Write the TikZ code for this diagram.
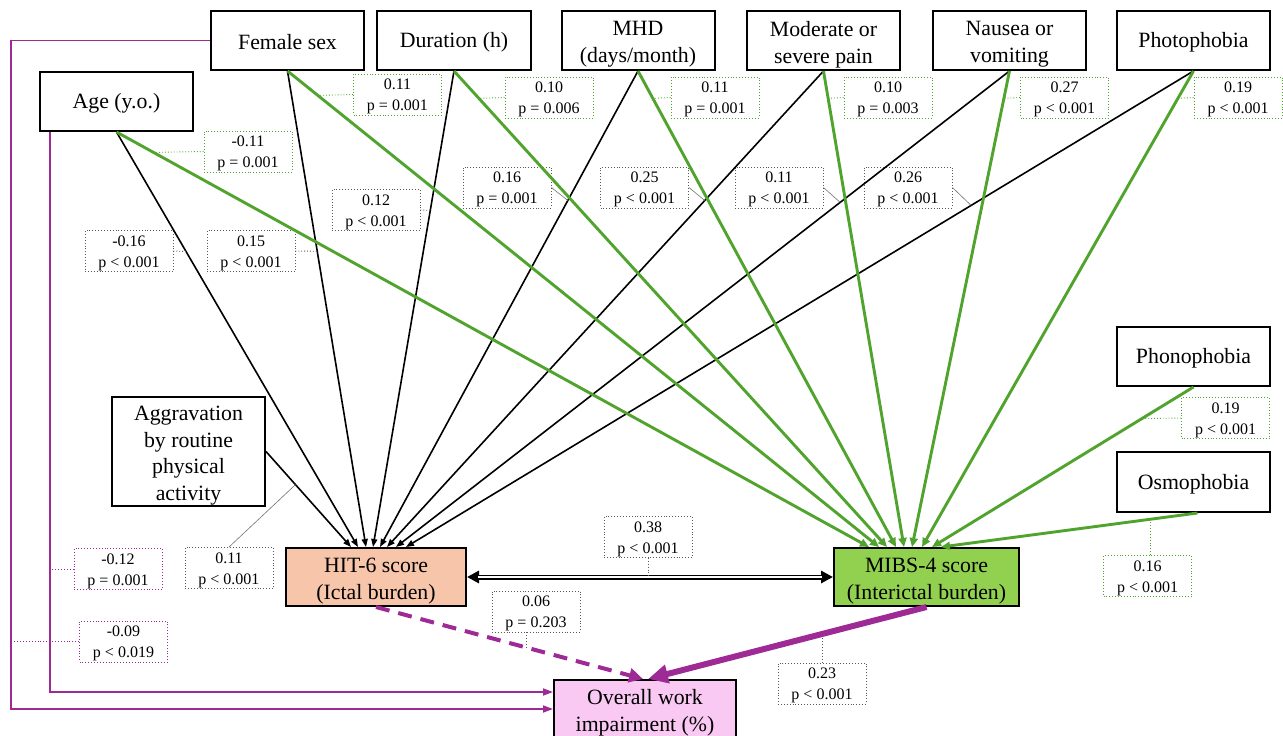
\documentclass[tikz,border=0pt]{standalone}
\usepackage{fontspec}
\setmainfont{Liberation Serif}
\usetikzlibrary{arrows.meta,calc}
\definecolor{grn}{RGB}{80,164,45}
\definecolor{pur}{RGB}{158,42,150}
\definecolor{hitc}{RGB}{246,197,170}
\definecolor{mibc}{RGB}{146,208,80}
\definecolor{owic}{RGB}{249,201,243}
\begin{document}
\begin{tikzpicture}[x=1pt,y=-1pt,
  box/.style={draw, line width=2pt, minimum width=153pt, minimum height=59pt, inner sep=0pt, fill=white},
  boxtxt/.style={align=center, inner sep=0pt, font=\fontsize{21.8}{26.7}\selectfont, yshift=-4pt},
  onetxt/.style={align=center, inner sep=0pt, font=\fontsize{21.8}{26.7}\selectfont, yshift=-2pt},
  lab/.style={draw=#1, dotted, line width=0.9pt, fill=white, minimum width=88pt, minimum height=41pt, inner sep=0pt},
  lab/.default=black!65,
  labtxt/.style={align=center, inner sep=0pt, font=\fontsize{16}{21}\selectfont, yshift=-2pt},
  lead/.style={draw=#1, dotted, line width=0.9pt},
  lead/.default=black!65,
  diag/.style={draw=black!55, line width=0.6pt},
  blk/.style={line width=1.6pt, -{Triangle[length=8pt,width=6pt]}},
  grnar/.style={grn, line width=2.9pt, -{Triangle[length=9pt,width=8pt]}},
  purc/.style={pur, line width=1.8pt, -{Triangle[length=10pt,width=7pt]}}
]
\useasboundingbox (0,0) rectangle (1283,736);

% main boxes
\node[box, label={[onetxt]center:Female sex}] (fem) at (287.5,40.5) {};
\node[box, minimum width=154pt, label={[onetxt]center:Duration (h)}] (dur) at (454,40.5) {};
\node[box, label={[boxtxt]center:{MHD\\(days/month)}}] (mhd) at (638,40.5) {};
\node[box, label={[boxtxt]center:{Moderate or\\severe pain}}] (mod) at (823.5,40.5) {};
\node[box, label={[boxtxt]center:{Nausea or\\vomiting}}] (nau) at (1009.5,40.5) {};
\node[box, label={[onetxt]center:Photophobia}] (pho) at (1193.5,40.5) {};
\node[box, label={[onetxt]center:Age (y.o.)}] (age) at (116.5,101.5) {};
\node[box, label={[onetxt]center:Phonophobia}] (phn) at (1193.5,356.5) {};
\node[box, minimum height=60pt, label={[onetxt]center:Osmophobia}] (osm) at (1193.5,482) {};
\node[box, minimum height=109pt, label={[boxtxt]center:{Aggravation\\by routine\\physical\\activity}}] (agg) at (188.5,451.5) {};
\node[box, fill=hitc, minimum width=180pt, minimum height=58pt, label={[boxtxt]center:{HIT-6 score\\(Ictal burden)}}] (hit) at (376,577) {};
\node[box, fill=mibc, minimum width=185pt, minimum height=58pt, label={[boxtxt]center:{MIBS-4 score\\(Interictal burden)}}] (mibs) at (926.5,577) {};
\node[box, fill=owic, minimum width=182pt, minimum height=58pt, label={[boxtxt]center:{Overall work\\impairment (\%)}}] (owi) at (645,709) {};

% label boxes
\node[lab=grn, label={[labtxt]center:{0.11\\p = 0.001}}] (L1) at (397.5,94.5) {};
\node[lab=grn, label={[labtxt]center:{-0.11\\p = 0.001}}] (L2) at (248,151.5) {};
\node[lab, label={[labtxt]center:{0.12\\p < 0.001}}] (L3) at (376,210) {};
\node[lab, label={[labtxt]center:{-0.16\\p < 0.001}}] (L4) at (129,251) {};
\node[lab, label={[labtxt]center:{0.15\\p < 0.001}}] (L5) at (251,251) {};
\node[lab=grn, label={[labtxt]center:{0.10\\p = 0.006}}] (L6) at (549,97.5) {};
\node[lab=grn, label={[labtxt]center:{0.11\\p = 0.001}}] (L7) at (715,97.5) {};
\node[lab=grn, label={[labtxt]center:{0.10\\p = 0.003}}] (L8) at (888,97.5) {};
\node[lab=grn, label={[labtxt]center:{0.27\\p < 0.001}}] (L9) at (1064.5,97.5) {};
\node[lab=grn, label={[labtxt]center:{0.19\\p < 0.001}}] (L10) at (1238,97.5) {};
\node[lab, label={[labtxt]center:{0.16\\p = 0.001}}] (L11) at (507,187.5) {};
\node[lab, label={[labtxt]center:{0.25\\p < 0.001}}] (L12) at (644.5,187.5) {};
\node[lab, label={[labtxt]center:{0.11\\p < 0.001}}] (L13) at (779,187.5) {};
\node[lab, label={[labtxt]center:{0.26\\p < 0.001}}] (L14) at (908,187.5) {};
\node[lab, label={[labtxt]center:{0.11\\p < 0.001}}] (L15) at (229,568) {};
\node[lab=pur, label={[labtxt]center:{-0.12\\p = 0.001}}] (L16) at (118,569) {};
\node[lab=pur, label={[labtxt]center:{-0.09\\p < 0.019}}] (L17) at (123.5,641.5) {};
\node[lab, label={[labtxt]center:{0.38\\p < 0.001}}] (L18) at (648,537) {};
\node[lab, label={[labtxt]center:{0.06\\p = 0.203}}] (L19) at (536,611.5) {};
\node[lab, label={[labtxt]center:{0.23\\p < 0.001}}] (L20) at (822,683.5) {};
\node[lab=grn, label={[labtxt]center:{0.19\\p < 0.001}}] (L21) at (1225.5,418) {};
\node[lab=grn, label={[labtxt]center:{0.16\\p < 0.001}}] (L22) at (1147.5,576) {};

% arrow targets
\foreach \n/\dx in {agg/66,age/73,fem/81,dur/88,mhd/95,mod/102,nau/111,pho/121}
  \coordinate (h\n) at ($(hit.north west)+(\dx,0)$);
\foreach \n/\dx in {age/36,fem/46,dur/54,mhd/63,mod/71,nau/79,pho/89,phn/99,osm/108}
  \coordinate (m\n) at ($(mibs.north west)+(\dx,0)$);

% black arrows to HIT-6
\draw[blk] (agg.east) -- coordinate[pos=0.347] (c15) (hagg);
\draw[blk] (age.south) -- coordinate[pos=0.2878] (c4) (hage);
\draw[blk] (fem.south) -- coordinate[pos=0.3787] (c5) (hfem);
\draw[blk] (dur.south) -- coordinate[pos=0.2929] (c3) (hdur);
\draw[blk] (mhd.south) -- coordinate[pos=0.272] (c11) (hmhd);
\draw[blk] (mod.south) -- coordinate[pos=0.272] (c12) (hmod);
\draw[blk] (nau.south) -- coordinate[pos=0.276] (c13) (hnau);
\draw[blk] (pho.south) -- coordinate[pos=0.2824] (c14) (hpho);

% green arrows to MIBS-4
\draw[grnar] (age.south) -- coordinate[pos=0.0492] (c2) (mage);
\draw[grnar] (fem.south) -- coordinate[pos=0.0513] (c1) (mfem);
\draw[grnar] (dur.south) -- coordinate[pos=0.0575] (c6) (mdur);
\draw[grnar] (mhd.south) -- coordinate[pos=0.0575] (c7) (mmhd);
\draw[grnar] (mod.south) -- coordinate[pos=0.0575] (c8) (mmod);
\draw[grnar] (nau.south) -- coordinate[pos=0.0575] (c9) (mnau);
\draw[grnar] (pho.south) -- coordinate[pos=0.0575] (c10) (mpho);
\draw[grnar] (phn.south) -- coordinate[pos=0.1975] (c21) (mphn);
\draw[grnar] ($(osm.south)+(4,0)$) -- coordinate[pos=0.183] (c22) (mosm);

% double-headed correlation
\draw[line width=5pt, {Triangle[length=12pt,width=12pt]}-{Triangle[length=12pt,width=12pt]}] (hit.east) -- (mibs.west);
\draw[white, line width=1.8pt, shorten <=11pt, shorten >=11pt] (hit.east) -- (mibs.west);

% purple paths
\draw[pur, line width=4pt, dash pattern=on 14pt off 9pt, -{Triangle[length=14pt,width=14pt]}] (hit.south) -- coordinate[pos=0.562] (c19) ($(owi.north)+(-2,0)$);
\draw[pur, line width=6pt, -{Triangle[length=20pt,width=18pt]}] (mibs.south) -- coordinate[pos=0.375] (c20) ($(owi.north)+(3,0)$);
\coordinate (pf) at (11,40.5);
\coordinate (pa) at ($(age.south west)+(11,0)$);
\draw[purc] (fem.west) -- (pf) |- (owi.west);
\draw[purc] (pa) |- ($(owi.west)+(0,-17)$);

% leaders
\draw[lead=grn] (L1.west) -- (c1);
\draw[lead=grn] (L2.west) -- (c2);
\draw[lead] (L3.east) -- (c3);
\draw[lead] (L4.east) -- (c4);
\draw[lead] (L5.east) -- (c5);
\draw[lead=grn] (L6.west) -- (c6);
\draw[lead=grn] (L7.west) -- (c7);
\draw[lead=grn] (L8.west) -- (c8);
\draw[lead=grn] (L9.west) -- (c9);
\draw[lead=grn] (L10.west) -- (c10);
\draw[diag] (L11.east) -- (c11);
\draw[diag] (L12.east) -- (c12);
\draw[diag] (L13.east) -- (c13);
\draw[diag] (L14.east) -- (c14);
\draw[diag] (L15.north) -- (c15);
\draw[lead=pur] (L16.west) -- (L16.west -| pa);
\draw[lead=pur] (L17.west) -- (L17.west -| pf);
\draw[lead] (L18.south) -- (L18.south |- hit.east);
\draw[lead] (L19.south -| c19) -- (c19);
\draw[lead] (L20.north -| c20) -- (c20);
\draw[lead=grn] (L21.west) -- (c21);
\draw[lead=grn] (L22.north -| c22) -- (c22);
\end{tikzpicture}
\end{document}
